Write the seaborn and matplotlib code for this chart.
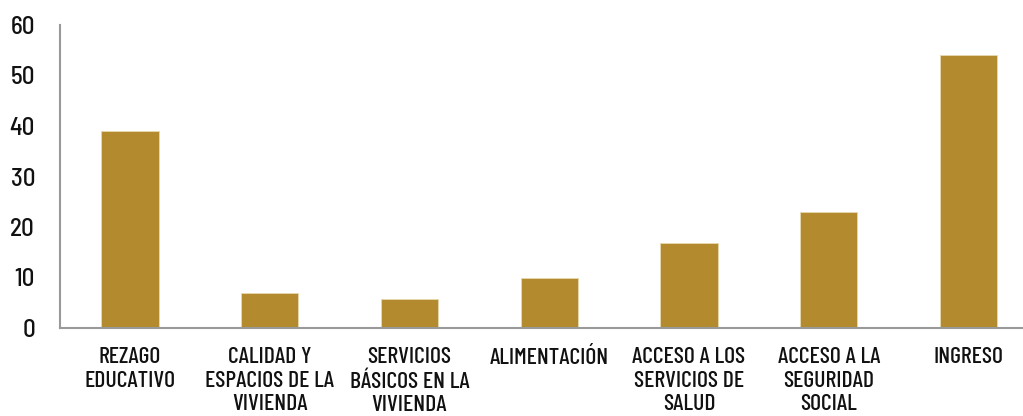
import matplotlib
matplotlib.use("Agg")
import matplotlib.pyplot as plt
import seaborn as sns
import pandas as pd

categories = ["REZAGO\nEDUCATIVO", "CALIDAD Y\nESPACIOS DE LA\nVIVIENDA",
              "SERVICIOS\nBÁSICOS EN LA\nVIVIENDA", "ALIMENTACIÓN",
              "ACCESO A LOS\nSERVICIOS DE\nSALUD", "ACCESO A LA\nSEGURIDAD\nSOCIAL",
              "INGRESO"]
values = [39.0, 6.9, 5.8, 9.9, 16.9, 23.0, 54.1]
yticks = [0, 10, 20, 30, 40, 50, 60]

sns.set_theme(style="white")
plt.rcParams['font.family'] = ['Barlow Condensed', 'DejaVu Sans']
plt.rcParams['font.weight'] = 500

df = pd.DataFrame({"cat": categories, "val": values})
fig = plt.figure(figsize=(10.23, 4.16), dpi=100)
ax = fig.add_axes([60/1023, 88/416, 1 - 60/1023, 303/416])
sns.barplot(data=df, x="cat", y="val", color="#B38B2E", saturation=1,
            width=0.41, edgecolor="#E8D9B0", linewidth=0.6, ax=ax)
ax.set_xlim(-0.5, 6.39)
ax.set_ylim(0, 60)
ax.set_yticks(yticks)
ax.set_yticklabels([str(t) for t in yticks], fontsize=18, color="#111111",
                   family=['Barlow Semi Condensed', 'DejaVu Sans'])
ax.set_xlabel("")
ax.set_ylabel("")
for lab in ax.get_xticklabels():
    lab.set_fontsize(17)
    lab.set_color("#111111")
    lab.set_linespacing(1.22)
ax.tick_params(axis="y", length=0, pad=18)
ax.tick_params(axis="x", length=0, pad=14)
for s in ["top", "right"]:
    ax.spines[s].set_visible(False)
for s in ["left", "bottom"]:
    ax.spines[s].set_color("#999999")
    ax.spines[s].set_linewidth(1.5)
fig.savefig("out.png", dpi=100)
